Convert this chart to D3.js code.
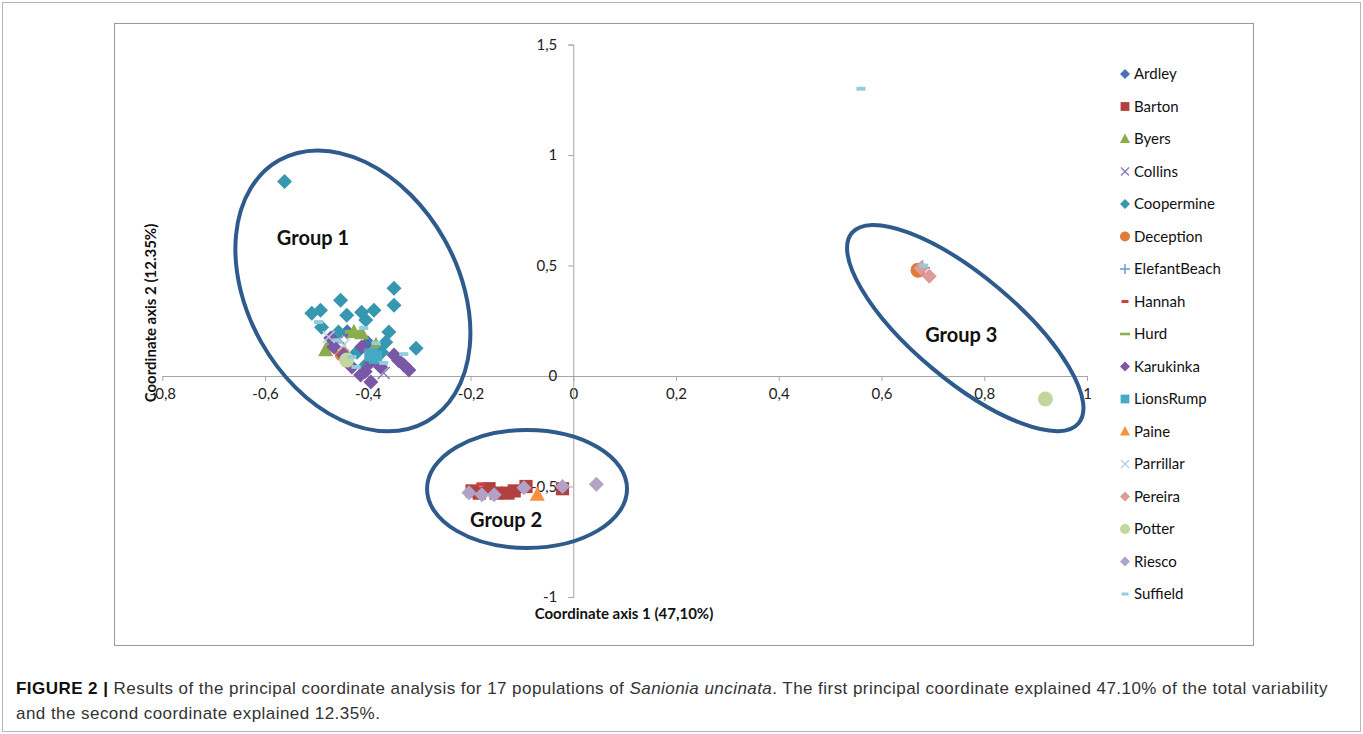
<!DOCTYPE html>
<html>
<head>
<meta charset="utf-8">
<script src="https://cdn.jsdelivr.net/npm/d3@7"></script>
<style>
  body { margin: 0; background: #fff; }
  svg text { font-family: Lato, "Open Sans", sans-serif; }
</style>
</head>
<body>
<script>
// Series names, colours and marker shapes (Excel style)
var names = ['Ardley', 'Barton', 'Byers', 'Collins', 'Coopermine', 'Deception', 'ElefantBeach', 'Hannah',
  'Hurd', 'Karukinka', 'LionsRump', 'Paine', 'Parrillar', 'Pereira', 'Potter', 'Riesco', 'Suffield'];
var colors = ['#4a72b0', '#b0413e', '#8aac4c', '#8a78b0', '#3597b0', '#e07b39', '#6f95c8', '#d0403f',
  '#8db04c', '#7a58a6', '#46a9c6', '#f7913f', '#b9cde5', '#dd9c9a', '#c3d69b', '#b3a2c7', '#93cddd'];
var shapes = ['diamond', 'square', 'triangle', 'x', 'diamond', 'circle', 'plus', 'dash',
  'longdash', 'diamond', 'square', 'triangle', 'x', 'diamond', 'circle', 'diamond', 'dash'];

// Points: [axis 1, axis 2]
var ardley = [[-0.44, 0.20], [-0.40, 0.15]];
var barton = [[-0.197, -0.52], [-0.183, -0.53], [-0.164, -0.51], [-0.150, -0.53], [-0.127, -0.53],
  [-0.115, -0.52], [-0.092, -0.50], [-0.021, -0.51]];
var byers = [[-0.427, 0.199], [-0.412, 0.194], [-0.472, 0.153], [-0.482, 0.117], [-0.384, 0.14]];
var collins = [[-0.369, 0.014], [-0.455, 0.165]];
var coopermine = [[-0.562, 0.880], [-0.509, 0.284], [-0.492, 0.298], [-0.490, 0.221], [-0.453, 0.343],
  [-0.441, 0.275], [-0.457, 0.199], [-0.412, 0.289], [-0.388, 0.298], [-0.404, 0.253], [-0.349, 0.397],
  [-0.349, 0.320], [-0.359, 0.199], [-0.365, 0.153], [-0.306, 0.126], [-0.373, 0.108], [-0.421, 0.108],
  [-0.404, 0.050]];
var deception = [[-0.45, 0.10], [0.671, 0.479]];
var elefantBeach = [[-0.46, 0.15], [0.68, 0.49]];
var hannah = [[-0.18, -0.49]];
var hurd = [[-0.43, 0.20]];
var karukinka = [[-0.412, 0.131], [-0.394, 0.063], [-0.414, 0.005], [-0.394, -0.027], [-0.431, 0.041],
  [-0.447, 0.095], [-0.466, 0.131], [-0.349, 0.095], [-0.330, 0.050], [-0.320, 0.027], [-0.375, 0.041],
  [-0.472, 0.172], [-0.405, 0.02], [-0.34, 0.07]];
var lionsRump = [[-0.394, 0.095], [-0.385, 0.085]];
var paine = [[-0.07, -0.537]];
var parrillar = [[-0.447, 0.14], [-0.476, 0.176]];
var pereira = [[0.677, 0.488], [0.693, 0.451]];
var potter = [[-0.441, 0.072], [0.919, -0.104]];
var riesco = [[-0.203, -0.528], [-0.178, -0.537], [-0.154, -0.537], [-0.096, -0.506], [-0.021, -0.50],
  [0.045, -0.49]];
var suffield = [[-0.496, 0.244], [-0.408, 0.217], [-0.384, 0.149], [-0.330, 0.099], [-0.431, 0.086],
  [-0.423, 0.041], [-0.460, 0.162], [-0.369, 0.059], [0.56, 1.30], [0.682, 0.50]];

var points = [ardley, barton, byers, collins, coopermine, deception, elefantBeach, hannah, hurd,
  karukinka, lionsRump, paine, parrillar, pereira, potter, riesco, suffield];

var xTicks = [-0.8, -0.6, -0.4, -0.2, 0, 0.2, 0.4, 0.6, 0.8, 1];
var yTicks = [-1, -0.5, 0, 0.5, 1, 1.5];

// Group annotations: label, ellipse centre (data units), label anchor (data units)
var groupNames = ['Group 1', 'Group 2', 'Group 3'];
var groupCentres = [[-0.429, 0.385], [-0.090, -0.511], [0.763, 0.217]];
var groupLabelAt = [[-0.577, 0.593], [-0.201, -0.683], [0.685, 0.154]];

var W = 1363, H = 734;

var svg = d3.select('body').append('svg').attr('width', W).attr('height', H);

// Frames
svg.append('rect').attr('x', 2.5).attr('y', 2.5).attr('width', W - 5).attr('height', H - 5)
  .attr('fill', 'none').attr('stroke', '#b5b5b5');
svg.append('rect').attr('x', 114.5).attr('y', 23.5).attr('width', 1139).attr('height', 622)
  .attr('fill', 'none').attr('stroke', '#9a9a9a');

var x = d3.scaleLinear().domain([-0.8, 1]).range([162.3, 1087]);
var y = d3.scaleLinear().domain([-1, 1.5]).range([597, 44.5]);

var fmt = d3.formatLocale({ decimal: ',', thousands: '.', grouping: [3], currency: ['', ''], minus: '-' }).format('~g');

// Axes crossing at the origin
var xAxis = svg.append('g').attr('transform', 'translate(0,' + y(0) + ')')
  .call(d3.axisBottom(x).tickValues(xTicks).tickFormat(fmt).tickSize(5).tickSizeOuter(0).tickPadding(7));
var yAxis = svg.append('g').attr('transform', 'translate(' + x(0) + ',0)')
  .call(d3.axisLeft(y).tickValues(yTicks).tickFormat(fmt).tickSize(5).tickSizeOuter(5).tickPadding(11));

[xAxis, yAxis].forEach(function (g) {
  g.selectAll('path, line').attr('stroke', '#a6a6a6');
  g.selectAll('text').attr('font-size', 15).attr('fill', '#222').attr('font-family', 'Lato, sans-serif');
});

// Marker drawing
function marker(sel, shape, color, s) {
  if (shape === 'diamond') {
    sel.append('path').attr('d', d3.symbol(d3.symbolSquare, s * s / 2)()).attr('transform', 'rotate(45)')
      .attr('fill', color);
  } else if (shape === 'square') {
    sel.append('rect').attr('x', -s * 0.44).attr('y', -s * 0.44).attr('width', s * 0.88).attr('height', s * 0.88)
      .attr('fill', color);
  } else if (shape === 'triangle') {
    sel.append('path').attr('d', 'M0,' + (-s * 0.55) + 'L' + (s * 0.5) + ',' + (s * 0.4) + 'L' + (-s * 0.5) + ',' + (s * 0.4) + 'Z')
      .attr('fill', color);
  } else if (shape === 'circle') {
    sel.append('circle').attr('r', s / 2).attr('fill', color);
  } else if (shape === 'x') {
    var h = s * 0.4;
    sel.append('path').attr('d', 'M' + (-h) + ',' + (-h) + 'L' + h + ',' + h + 'M' + (-h) + ',' + h + 'L' + h + ',' + (-h))
      .attr('stroke', color).attr('stroke-width', 1.4).attr('fill', 'none');
  } else if (shape === 'plus') {
    var p = s * 0.5;
    sel.append('path').attr('d', 'M' + (-p) + ',0L' + p + ',0M0,' + (-p) + 'L0,' + p)
      .attr('stroke', color).attr('stroke-width', 1.4).attr('fill', 'none');
  } else if (shape === 'dash') {
    sel.append('rect').attr('x', -s * 0.35).attr('y', -s * 0.15).attr('width', s * 0.7).attr('height', s * 0.3)
      .attr('fill', color);
  } else if (shape === 'longdash') {
    sel.append('rect').attr('x', -s * 0.5).attr('y', -s * 0.13).attr('width', s).attr('height', s * 0.26)
      .attr('fill', color);
  }
}

// Plot series in order
var plot = svg.append('g').attr('class', 'series');
points.forEach(function (pts, i) {
  var size = shapes[i] === 'dash' ? 13 : 15;
  plot.append('g').selectAll('g')
    .data(pts)
    .enter()
    .append('g')
    .attr('transform', function (d) { return 'translate(' + x(d[0]) + ',' + y(d[1]) + ')'; })
    .each(function () { marker(d3.select(this), shapes[i], colors[i], size); });
});

// Group ellipses and labels
var ellipseR = [[150, 105, 60.5], [100, 59, 0], [148, 52, 40]];
var ann = svg.append('g').attr('class', 'groups');
ann.selectAll('ellipse')
  .data(groupCentres)
  .enter()
  .append('ellipse')
  .attr('rx', function (d, i) { return ellipseR[i][0]; })
  .attr('ry', function (d, i) { return ellipseR[i][1]; })
  .attr('transform', function (d, i) { return 'translate(' + x(d[0]) + ',' + y(d[1]) + ') rotate(' + ellipseR[i][2] + ')'; })
  .attr('fill', 'none')
  .attr('stroke', '#2f5b8c')
  .attr('stroke-width', 4);
ann.selectAll('text')
  .data(groupNames)
  .enter()
  .append('text')
  .attr('x', function (d, i) { return x(groupLabelAt[i][0]); })
  .attr('y', function (d, i) { return y(groupLabelAt[i][1]); })
  .attr('font-size', 20)
  .attr('font-weight', 'bold')
  .attr('fill', '#111')
  .text(function (d) { return d; });

// Axis titles
svg.append('text').attr('x', 624).attr('y', 619).attr('text-anchor', 'middle')
  .attr('font-size', 15).attr('font-weight', 'bold').attr('fill', '#111')
  .text('Coordinate axis 1 (47,10%)');
svg.append('text').attr('transform', 'translate(156,313) rotate(-90)').attr('text-anchor', 'middle')
  .attr('font-size', 15).attr('font-weight', 'bold').attr('fill', '#111')
  .text('Coordinate axis 2 (12.35%)');

// Legend
var legend = svg.append('g').attr('class', 'legend');
var rows = legend.selectAll('g')
  .data(names)
  .enter()
  .append('g')
  .attr('transform', function (d, i) { return 'translate(1125,' + (74 + i * 32.5) + ')'; });
rows.each(function (d, i) { marker(d3.select(this), shapes[i], colors[i], 10); });
rows.append('text')
  .attr('x', 9)
  .attr('dy', '0.35em')
  .attr('font-size', 15)
  .attr('fill', '#111')
  .text(function (d) { return d; });

// Caption
var cap = svg.append('text').attr('x', 16).attr('y', 694)
  .style('font-family', '"Liberation Sans", Arial, sans-serif').style('letter-spacing', '0.45px')
  .attr('font-size', 17).attr('fill', '#333');
cap.append('tspan').attr('font-weight', 'bold').attr('fill', '#111').text('FIGURE 2 | ');
cap.append('tspan').text('Results of the principal coordinate analysis for 17 populations of ');
cap.append('tspan').attr('font-style', 'italic').text('Sanionia uncinata');
cap.append('tspan').text('. The first principal coordinate explained 47.10% of the total variability');
svg.append('text').attr('x', 16).attr('y', 719)
  .style('font-family', '"Liberation Sans", Arial, sans-serif').style('letter-spacing', '0.45px')
  .attr('font-size', 17).attr('fill', '#333')
  .text('and the second coordinate explained 12.35%.');
</script>
</body>
</html>
